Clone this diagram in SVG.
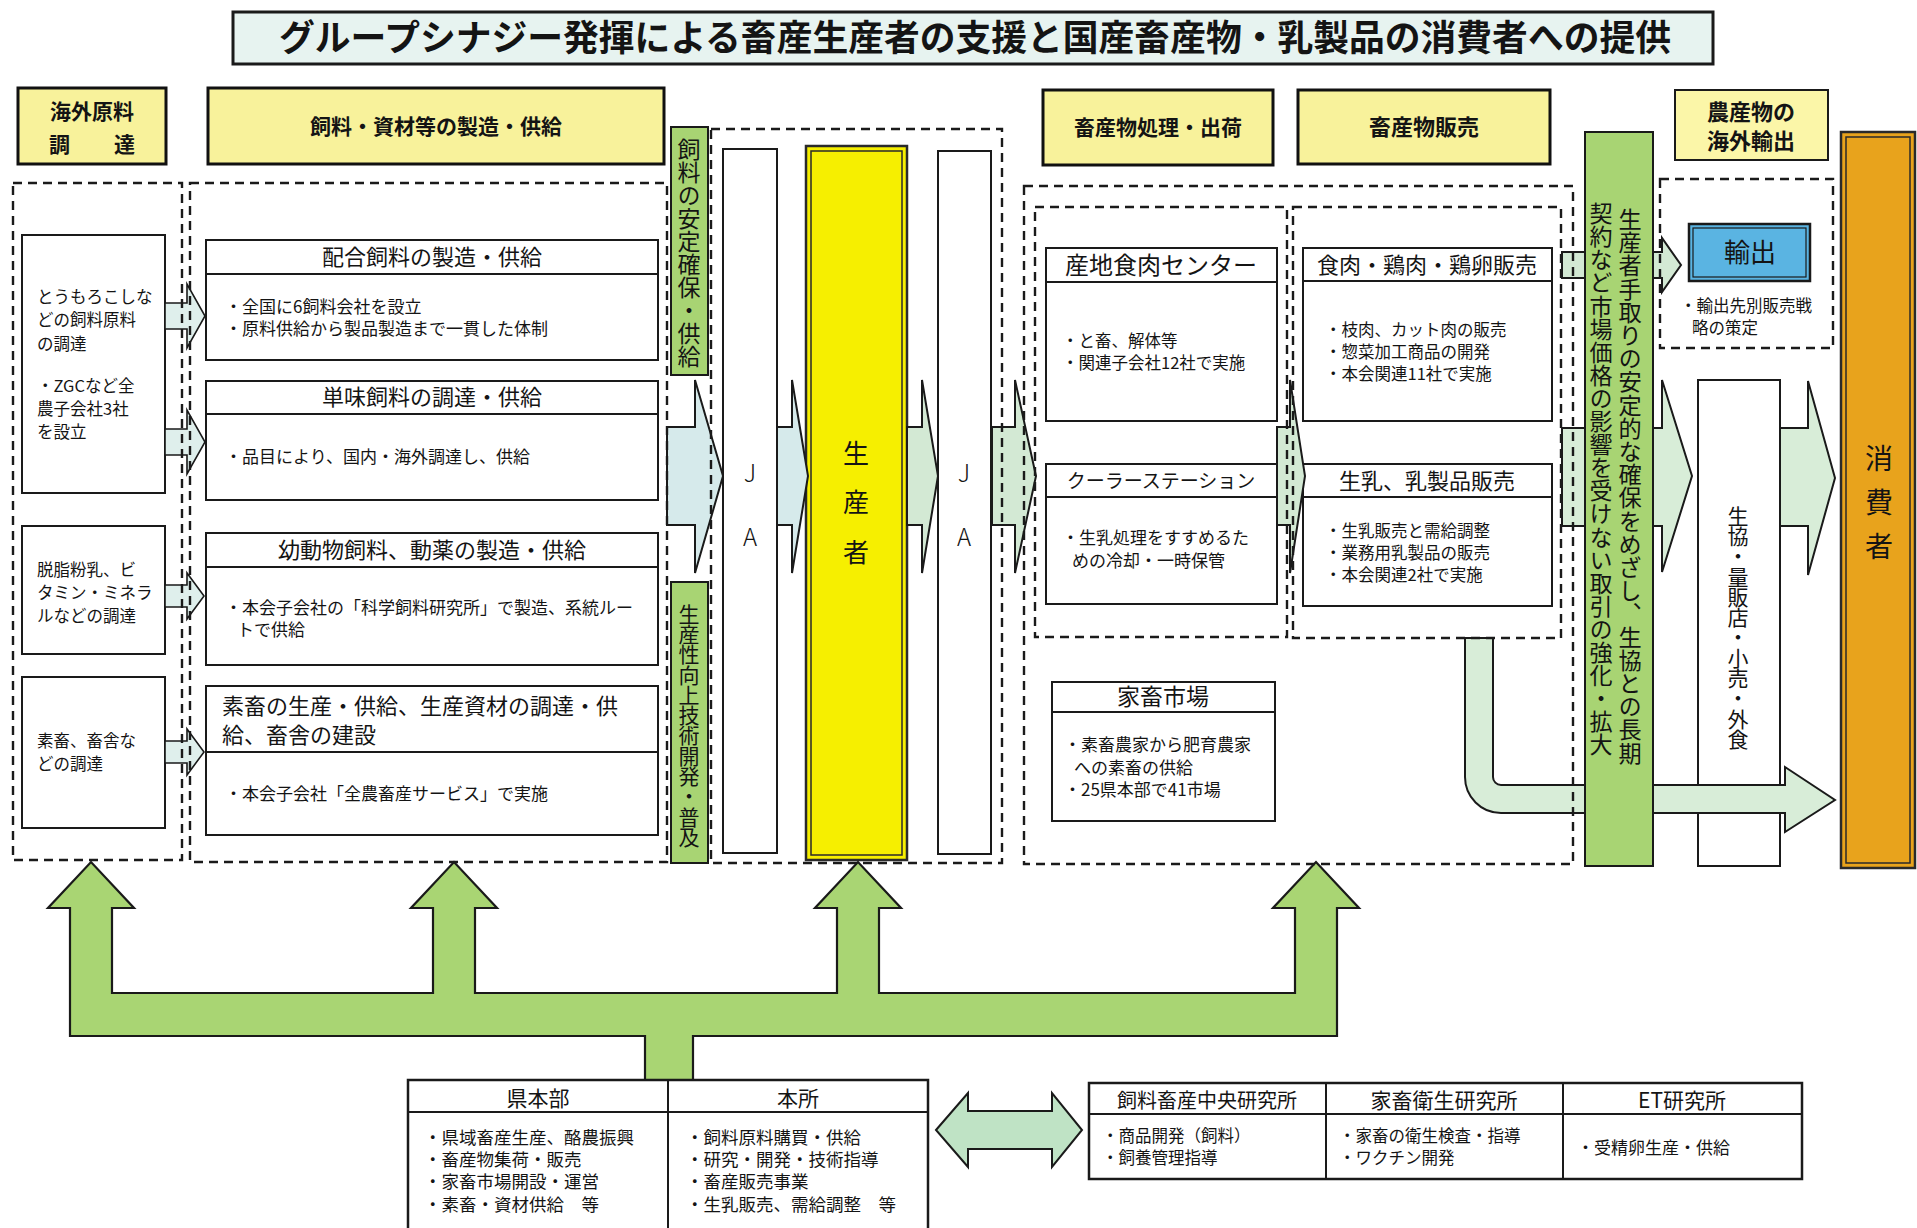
<svg xmlns="http://www.w3.org/2000/svg" width="1917" height="1228" viewBox="0 0 1917 1228">
<style>
.t{font-family:"Noto Sans CJK JP","Noto Sans CJK SC",sans-serif;fill:#141414}
.b{font-weight:700}
.m{text-anchor:middle}
.v{writing-mode:vertical-rl;text-anchor:middle}
.up{text-orientation:upright}
.box{fill:#fff;stroke:#1a1a1a;stroke-width:2}
.hdr{fill:#f8f29b;stroke:#111;stroke-width:3}
.dash{fill:none;stroke:#1a1a1a;stroke-width:2.4;stroke-dasharray:9 6}
.grn{fill:#a8d473;stroke:#1a1a1a;stroke-width:2}
.ln{stroke:#1a1a1a;stroke-width:2;fill:none}
.a1{fill:#d6eaeb;stroke:#1a1a1a;stroke-width:2;stroke-linejoin:miter}
.a2{fill:#d3e9d4;stroke:#1a1a1a;stroke-width:2}
.a3{fill:#d8edd8;stroke:#1a1a1a;stroke-width:2}
.a4{fill:#dfefec;stroke:#1a1a1a;stroke-width:1.6}
</style>
<rect width="1917" height="1228" fill="#fff"/>

<!-- title -->
<g id="title">
<rect x="233" y="12" width="1480" height="52" fill="#e7f3f0" stroke="#1a1a1a" stroke-width="3"/>
<text class="t b m" x="975" y="51" font-size="36" textLength="1392" lengthAdjust="spacingAndGlyphs">グループシナジー発揮による畜産生産者の支援と国産畜産物・乳製品の消費者への提供</text>
</g>

<!-- headers -->
<g id="hdr-overseas">
<rect class="hdr" x="18" y="88" width="148" height="76"/>
<text class="t b m" x="92" y="119" font-size="21">海外原料</text>
<text class="t b m" x="92" y="152" font-size="21" textLength="86" lengthAdjust="spacing">調　達</text>
</g>
<g id="hdr-feed">
<rect class="hdr" x="208" y="88" width="456" height="76"/>
<text class="t b m" x="436" y="134" font-size="21">飼料・資材等の製造・供給</text>
</g>
<g id="hdr-process">
<rect class="hdr" x="1043" y="90" width="230" height="75"/>
<text class="t b m" x="1158" y="135" font-size="21">畜産物処理・出荷</text>
</g>
<g id="hdr-sales">
<rect class="hdr" x="1298" y="90" width="252" height="74"/>
<text class="t b m" x="1424" y="135" font-size="22">畜産物販売</text>
</g>
<g id="hdr-export">
<rect x="1675" y="90" width="153" height="70" fill="#fbf6a8" stroke="#1a1a1a" stroke-width="2"/>
<text class="t b m" x="1751" y="120" font-size="22">農産物の</text>
<text class="t b m" x="1751" y="149" font-size="22">海外輸出</text>
</g>

<!-- left boxes -->
<g id="src-grain">
<rect class="box" x="22" y="235" width="143" height="258"/>
<text class="t" font-size="16.5"><tspan x="37" y="303">とうもろこしな</tspan><tspan x="37" y="326">どの飼料原料</tspan><tspan x="37" y="350">の調達</tspan><tspan x="37" y="392">・ZGCなど全</tspan><tspan x="37" y="415">農子会社3社</tspan><tspan x="37" y="438">を設立</tspan></text>
</g>
<g id="src-milk">
<rect class="box" x="22" y="526" width="143" height="128"/>
<text class="t" font-size="16.5"><tspan x="37" y="576">脱脂粉乳、ビ</tspan><tspan x="37" y="599">タミン・ミネラ</tspan><tspan x="37" y="622">ルなどの調達</tspan></text>
</g>
<g id="src-stock">
<rect class="box" x="22" y="677" width="143" height="151"/>
<text class="t" font-size="16.5"><tspan x="37" y="747">素畜、畜舎な</tspan><tspan x="37" y="770">どの調達</tspan></text>
</g>

<!-- feed boxes -->
<g id="feed-mixed">
<rect class="box" x="206" y="240" width="452" height="120"/>
<line class="ln" x1="206" y1="274" x2="658" y2="274"/>
<text class="t m" x="432" y="265" font-size="22">配合飼料の製造・供給</text>
<text class="t" font-size="17"><tspan x="225" y="313">・全国に6飼料会社を設立</tspan><tspan x="225" y="335">・原料供給から製品製造まで一貫した体制</tspan></text>
</g>
<g id="feed-single">
<rect class="box" x="206" y="381" width="452" height="119"/>
<line class="ln" x1="206" y1="414" x2="658" y2="414"/>
<text class="t m" x="432" y="405" font-size="22">単味飼料の調達・供給</text>
<text class="t" x="225" y="463" font-size="17">・品目により、国内・海外調達し、供給</text>
</g>
<g id="feed-young">
<rect class="box" x="206" y="533" width="452" height="132"/>
<line class="ln" x1="206" y1="567" x2="658" y2="567"/>
<text class="t m" x="432" y="558" font-size="22">幼動物飼料、動薬の製造・供給</text>
<text class="t" font-size="17"><tspan x="225" y="614">・本会子会社の「科学飼料研究所」で製造、系統ルー</tspan><tspan x="237" y="636">トで供給</tspan></text>
</g>
<g id="feed-stock">
<rect class="box" x="206" y="686" width="452" height="149"/>
<line class="ln" x1="206" y1="752" x2="658" y2="752"/>
<text class="t" font-size="22"><tspan x="222" y="714">素畜の生産・供給、生産資材の調達・供</tspan><tspan x="222" y="743">給、畜舎の建設</tspan></text>
<text class="t" x="225" y="800" font-size="17">・本会子会社「全農畜産サービス」で実施</text>
</g>

<!-- green labels -->
<g id="lbl-feed">
<rect class="grn" x="671" y="127" width="37" height="248"/>
<text class="t v" x="689" y="253" font-size="23">飼料の安定確保・供給</text>
</g>
<g id="lbl-tech">
<rect class="grn" x="671" y="582" width="37" height="281"/>
<text class="t v" x="689" y="725" font-size="21" letter-spacing="-0.7">生産性向上技術開発・普及</text>
</g>

<!-- JA / producer -->
<g id="ja-1">
<rect class="box" x="723" y="149" width="54" height="704"/>
<text class="t v up" x="750" y="525" font-size="24" font-weight="300" letter-spacing="40">JA</text>
</g>
<g id="producer">
<rect x="806" y="146" width="101" height="714" fill="#f6ef00" stroke="#2a2a2a" stroke-width="2.5"/>
<rect x="811" y="151" width="91" height="704" fill="none" stroke="#2a2a2a" stroke-width="1.5"/>
<text class="t v" x="856" y="514" font-size="26" letter-spacing="23.5">生産者</text>
</g>
<g id="ja-2">
<rect class="box" x="938" y="151" width="53" height="703"/>
<text class="t v up" x="964" y="525" font-size="24" font-weight="300" letter-spacing="40">JA</text>
</g>

<!-- processing -->
<g id="meat-center">
<rect class="box" x="1046" y="248" width="231" height="173"/>
<line class="ln" x1="1046" y1="282" x2="1277" y2="282"/>
<text class="t m" x="1161" y="274" font-size="24">産地食肉センター</text>
<text class="t" font-size="16.5"><tspan x="1062" y="347">・と畜、解体等</tspan><tspan x="1062" y="369">・関連子会社12社で実施</tspan></text>
</g>
<g id="cooler">
<rect class="box" x="1046" y="464" width="231" height="140"/>
<line class="ln" x1="1046" y1="497" x2="1277" y2="497"/>
<text class="t m" x="1161" y="488" font-size="19">クーラーステーション</text>
<text class="t" font-size="17"><tspan x="1062" y="544">・生乳処理をすすめるた</tspan><tspan x="1072" y="567">めの冷却・一時保管</tspan></text>
</g>
<g id="market">
<rect class="box" x="1052" y="682" width="223" height="139"/>
<line class="ln" x1="1052" y1="712" x2="1275" y2="712"/>
<text class="t m" x="1163" y="705" font-size="23">家畜市場</text>
<text class="t" font-size="17"><tspan x="1064" y="751">・素畜農家から肥育農家</tspan><tspan x="1074" y="774">への素畜の供給</tspan><tspan x="1064" y="796">・25県本部で41市場</tspan></text>
</g>

<!-- sales -->
<g id="meat-sales">
<rect class="box" x="1303" y="248" width="249" height="173"/>
<line class="ln" x1="1303" y1="281" x2="1552" y2="281"/>
<text class="t m" x="1427" y="273" font-size="22">食肉・鶏肉・鶏卵販売</text>
<text class="t" font-size="16.5"><tspan x="1325" y="336">・枝肉、カット肉の販売</tspan><tspan x="1325" y="358">・惣菜加工商品の開発</tspan><tspan x="1325" y="380">・本会関連11社で実施</tspan></text>
</g>
<g id="milk-sales">
<rect class="box" x="1303" y="464" width="249" height="142"/>
<line class="ln" x1="1303" y1="497" x2="1552" y2="497"/>
<text class="t m" x="1427" y="489" font-size="22">生乳、乳製品販売</text>
<text class="t" font-size="16.5"><tspan x="1325" y="537">・生乳販売と需給調整</tspan><tspan x="1325" y="559">・業務用乳製品の販売</tspan><tspan x="1325" y="581">・本会関連2社で実施</tspan></text>
</g>

<!-- export -->
<g id="export">
<rect x="1689" y="224" width="121" height="57" fill="#5ab4e2" stroke="#1a1a1a" stroke-width="2.5"/>
<rect x="1693" y="228" width="113" height="49" fill="none" stroke="#1a1a1a" stroke-width="1.2"/>
<text class="t m" x="1750" y="262" font-size="26">輸出</text>
<text class="t" font-size="16.5"><tspan x="1680" y="312">・輸出先別販売戦</tspan><tspan x="1692" y="334">略の策定</tspan></text>
</g>

<!-- retail -->
<g id="retail">
<rect class="box" x="1698" y="380" width="82" height="486"/>
<text class="t v" x="1738" y="627" font-size="21" letter-spacing="-0.7">生協・量販店・小売・外食</text>
</g>

<!-- consumer -->
<g id="consumer">
<rect x="1841" y="132" width="74" height="736" fill="#e8a31c" stroke="#2a2a2a" stroke-width="2.5"/>
<rect x="1846" y="137" width="64" height="726" fill="none" stroke="#2a2a2a" stroke-width="1.5"/>
<text class="t v" x="1879" y="510" font-size="28" letter-spacing="16">消費者</text>
</g>

<!-- connectors -->
<g id="connectors">
<polygon class="a4" points="165,303 187,303 187,284 205,316 187,348 187,329 165,329"/>
<polygon class="a4" points="165,429 187,429 187,410 205,442 187,474 187,455 165,455"/>
<polygon class="a4" points="165,585 187,585 187,573 204,596 187,619 187,607 165,607"/>
<polygon class="a4" points="165,741 187,741 187,729 204,752 187,775 187,763 165,763"/>
<polygon class="a1" points="667,427 695,427 695,380 723,476 695,573 695,525 667,525"/>
<polygon class="a1" points="777,427 792,427 792,380 808,476 792,573 792,525 777,525"/>
<polygon class="a2" points="907,427 922,427 922,380 938,476 922,573 922,525 907,525"/>
<polygon class="a2" points="992,427 1015,427 1015,380 1036,476 1015,573 1015,525 992,525"/>
<polygon class="a2" points="1277,427 1290,427 1290,380 1305,476 1290,573 1290,525 1277,525"/>
<polygon class="a2" points="1562,252 1662,252 1662,238 1681,265 1662,292 1662,278 1562,278"/>
<polygon class="a3" points="1562,428 1662,428 1662,380 1692,476 1662,572 1662,526 1562,526"/>
<polygon class="a3" points="1780,428 1808,428 1808,381 1835,478 1808,575 1808,526 1780,526"/>
<path class="a3" d="M1465,638 L1465,777 A36,36 0 0 0 1501,813 L1785,813 L1785,832 L1835,800 L1785,767 L1785,785 L1501,785 A8,8 0 0 1 1493,777 L1493,638 Z"/>
<path d="M70,1036 L70,908 L48,908 L91,862 L134,908 L112,908 L112,993 L433,993 L433,908 L411,908 L454,862 L497,908 L475,908 L475,993 L837,993 L837,908 L815,908 L858,862 L901,908 L879,908 L879,993 L1295,993 L1295,908 L1273,908 L1316,862 L1359,908 L1337,908 L1337,1036 L693,1036 L693,1080 L645,1080 L645,1036 Z" fill="#a9d573" stroke="#1a1a1a" stroke-width="2.2" stroke-linejoin="miter"/>
<polygon points="936,1130 968,1093 968,1111 1052,1111 1052,1093 1082,1130 1052,1167 1052,1149 968,1149 968,1167" fill="#bfe3c5" stroke="#1a1a1a" stroke-width="2"/>
</g>

<!-- band -->
<g id="policy-band">
<rect class="grn" x="1585" y="132" width="68" height="734"/>
<text class="t v" x="1630" y="486" font-size="23.2">生産者手取りの安定的な確保をめざし、生協との長期</text>
<text class="t v" x="1601" y="479" font-size="23.1">契約など市場価格の影響を受けない取引の強化・拡大</text>
</g>

<!-- dashed containers -->
<g id="containers">
<rect class="dash" x="13" y="183" width="169" height="677"/>
<rect class="dash" x="190" y="183" width="477" height="679"/>
<rect class="dash" x="711" y="129" width="291" height="734"/>
<rect class="dash" x="1024" y="186" width="549" height="678"/>
<rect class="dash" x="1035" y="207" width="252" height="430"/>
<rect class="dash" x="1293" y="207" width="268" height="431"/>
<rect class="dash" x="1660" y="179" width="173" height="169"/>
</g>

<!-- bottom tables -->
<g id="hq-table">
<rect x="408" y="1080" width="520" height="160" fill="#fff" stroke="#1a1a1a" stroke-width="2.5"/>
<line class="ln" x1="408" y1="1112" x2="928" y2="1112" stroke-width="2.5"/>
<line class="ln" x1="668" y1="1080" x2="668" y2="1240"/>
<text class="t m" x="538" y="1106" font-size="21">県本部</text>
<text class="t m" x="798" y="1106" font-size="21">本所</text>
<text class="t" font-size="17.5"><tspan x="424" y="1144">・県域畜産生産、酪農振興</tspan><tspan x="424" y="1166">・畜産物集荷・販売</tspan><tspan x="424" y="1188">・家畜市場開設・運営</tspan><tspan x="424" y="1211">・素畜・資材供給　等</tspan></text>
<text class="t" font-size="17.5"><tspan x="686" y="1144">・飼料原料購買・供給</tspan><tspan x="686" y="1166">・研究・開発・技術指導</tspan><tspan x="686" y="1188">・畜産販売事業</tspan><tspan x="686" y="1211">・生乳販売、需給調整　等</tspan></text>
</g>
<g id="lab-table">
<rect x="1089" y="1083" width="713" height="96" fill="#fff" stroke="#1a1a1a" stroke-width="2.5"/>
<line class="ln" x1="1089" y1="1114" x2="1802" y2="1114" stroke-width="2.5"/>
<line class="ln" x1="1326" y1="1083" x2="1326" y2="1179"/>
<line class="ln" x1="1563" y1="1083" x2="1563" y2="1179"/>
<text class="t m" x="1207" y="1108" font-size="20">飼料畜産中央研究所</text>
<text class="t m" x="1444" y="1108" font-size="21">家畜衛生研究所</text>
<text class="t m" x="1682" y="1108" font-size="21">ET研究所</text>
<text class="t" font-size="16.5"><tspan x="1102" y="1142">・商品開発（飼料）</tspan><tspan x="1102" y="1164">・飼養管理指導</tspan></text>
<text class="t" font-size="16.5"><tspan x="1339" y="1142">・家畜の衛生検査・指導</tspan><tspan x="1339" y="1164">・ワクチン開発</tspan></text>
<text class="t" x="1577" y="1154" font-size="17">・受精卵生産・供給</text>
</g>
</svg>
